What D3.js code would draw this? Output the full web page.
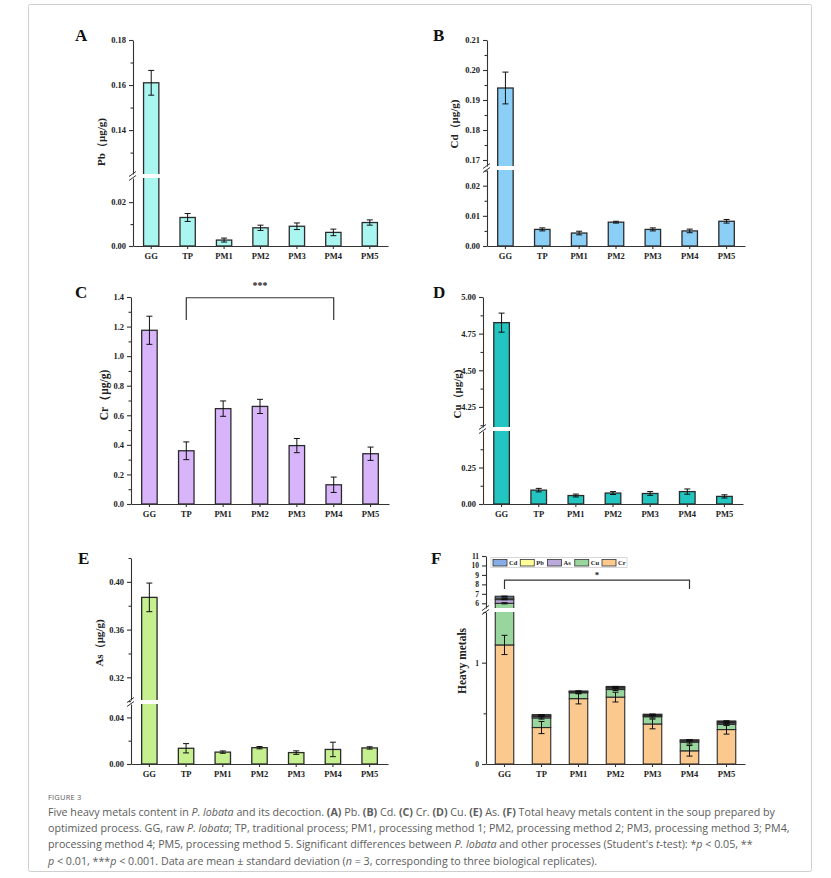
<!DOCTYPE html>
<html><head><meta charset="utf-8">
<script src="https://cdn.jsdelivr.net/npm/d3@7/dist/d3.min.js"></script>
<style>
body{margin:0;background:#fff;}
svg{display:block;}
.tk text{font-family:"Liberation Serif","Times New Roman",serif;font-weight:bold;font-size:8.5px;fill:#222;}
.tk line,.tk path{stroke:#333;stroke-width:1.1;}
.cap{font-family:"Open Sans","Noto Sans",sans-serif;fill:#5c5c5c;}
</style></head>
<body>
<svg id="c" width="831" height="878"></svg>
<script>
// ---------- data ----------
const categories = ["GG","TP","PM1","PM2","PM3","PM4","PM5"];
const pbMean = [0.161,0.0130,0.0027,0.0083,0.0090,0.0062,0.0107];
const pbSd   = [0.0055,0.0018,0.0009,0.0012,0.0015,0.0015,0.0012];
const cdMean = [0.194,0.0055,0.0043,0.0079,0.0055,0.0050,0.0082];
const cdSd   = [0.0053,0.0005,0.0006,0.0003,0.0005,0.0006,0.0006];
const crMean = [1.175,0.360,0.645,0.660,0.395,0.130,0.340];
const crSd   = [0.095,0.060,0.052,0.048,0.048,0.052,0.045];
const cuMean = [4.825,0.095,0.058,0.075,0.072,0.085,0.052];
const cuSd   = [0.065,0.012,0.010,0.010,0.013,0.018,0.011];
const asMean = [0.387,0.0135,0.0102,0.0140,0.0098,0.0125,0.0138];
const asSd   = [0.012,0.0040,0.0010,0.0010,0.0015,0.0062,0.0010];
const metalsStackOrder = ["Cr","Cu","As","Pb","Cd"];
const legendOrder = ["Cd","Pb","As","Cu","Cr"];
const ticksA = {lower:[0,0.02], lowerMinor:[0.01], upper:[0.14,0.16,0.18], upperMinor:[0.13,0.15,0.17]};
const ticksB = {lower:[0,0.01,0.02], lowerMinor:[0.005,0.015,0.025], upper:[0.17,0.18,0.19,0.20,0.21], upperMinor:[0.175,0.185,0.195,0.205]};
const ticksC = {lower:[0,0.2,0.4,0.6,0.8,1.0,1.2,1.4], lowerMinor:[0.1,0.3,0.5,0.7,0.9,1.1,1.3]};
const ticksD = {lower:[0,0.25], lowerMinor:[0.125,0.375], upper:[4.25,4.5,4.75,5.0], upperMinor:[4.125,4.375,4.625,4.875]};
const ticksE = {lower:[0,0.04], lowerMinor:[0.02], upper:[0.32,0.36,0.40], upperMinor:[0.30,0.34,0.38,0.42]};
const ticksF = {lower:[0,1], lowerMinor:[0.5,1.5], upper:[6,7,8,9,10,11], upperMinor:[]};

const metals = {
  Cr:{mean:crMean, sd:crSd, color:"#fbc88e"},
  Cu:{mean:cuMean, sd:cuSd, color:"#98d69d"},
  As:{mean:asMean, sd:asSd, color:"#b9aadb"},
  Pb:{mean:pbMean, sd:pbSd, color:"#fdfd9c"},
  Cd:{mean:cdMean, sd:cdSd, color:"#87ace6"}
};

const svg = d3.select("#c");
svg.append("rect").attr("x",28.5).attr("y",4.5).attr("width",783).attr("height",867)
  .attr("rx",2).attr("fill","#fff").attr("stroke","#cfcfcf").attr("stroke-width",1);

function brokenScale(lowDom, lowRange, upDom, upRange){
  const lo = d3.scaleLinear().domain(lowDom).range(lowRange);
  const up = upDom ? d3.scaleLinear().domain(upDom).range(upRange) : null;
  const f = v => {
    if(!up || v <= lowDom[1]) return lo(v);
    if(v >= upDom[0]) return up(v);
    return (lowRange[1]+upRange[0])/2;
  };
  f.lo = lo; f.up = up; return f;
}

function drawAxes(g, cfg, y, x){
  const fmt = d3.format(cfg.fmt);
  const mk = (sc, vals, minor) => {
    const a = g.append("g").attr("class","tk ytk").attr("transform",`translate(${cfg.axisX},0)`)
      .call(d3.axisLeft(sc).tickValues(vals).tickFormat(fmt).tickSize(4).tickSizeOuter(0).tickPadding(3));
    if(cfg.labelSize) a.selectAll("text").style("font-size", cfg.labelSize+"px");
    g.append("g").attr("class","tk").attr("transform",`translate(${cfg.axisX},0)`)
      .call(d3.axisLeft(sc).tickValues(minor).tickFormat("").tickSize(2.5).tickSizeOuter(0))
      .select(".domain").remove();
  };
  mk(y.lo, cfg.ticks.lower, cfg.ticks.lowerMinor);
  if(y.up) mk(y.up, cfg.ticks.upper, cfg.ticks.upperMinor);
  g.append("g").attr("class","tk").attr("transform",`translate(0,${cfg.y0})`)
    .call(d3.axisBottom(x).tickSize(3).tickSizeOuter(0).tickPadding(4));
}

function breakMark(g, cfg, x){
  if(!cfg.upper) return;
  const gt = cfg.gap[0], gb = cfg.gap[1];
  g.append("rect").attr("x",cfg.axisX-3).attr("y",gt).attr("width",x(categories[0])+x.bandwidth()+1.5-(cfg.axisX-3))
    .attr("height",gb-gt).attr("fill","#fff");
  [gt,gb].forEach(yy=>{
    g.append("line").attr("x1",cfg.axisX-4).attr("y1",yy+2.5).attr("x2",cfg.axisX+3).attr("y2",yy-2.5)
      .attr("stroke","#333").attr("stroke-width",1);
  });
}

function errBar(g, cx, yTop, yBot, cap){
  g.append("line").attr("x1",cx).attr("x2",cx).attr("y1",yTop).attr("y2",yBot).attr("stroke","#111").attr("stroke-width",1);
  [yTop,yBot].forEach(yy=>g.append("line").attr("x1",cx-cap).attr("x2",cx+cap).attr("y1",yy).attr("y2",yy).attr("stroke","#111").attr("stroke-width",1));
}

function panelLetter(txt, x, y){
  svg.append("text").attr("x",x).attr("y",y).text(txt)
    .style("font-family","'Liberation Serif','Times New Roman',serif").style("font-weight","bold").style("font-size","17px").attr("fill","#111");
}

function yLabel(txt, x, y, size){
  svg.append("text").attr("transform",`translate(${x},${y}) rotate(-90)`).attr("text-anchor","middle").text(txt)
    .style("font-family","'Liberation Serif','Times New Roman',serif").style("font-weight","bold").style("font-size",(size||11)+"px").attr("fill","#222");
}

function barPanel(cfg){
  const g = svg.append("g");
  const x = d3.scaleBand().domain(categories).range([cfg.axisX, cfg.xEnd]).paddingInner(cfg.pad).paddingOuter(cfg.pad/2);
  const y = brokenScale(cfg.lower, [cfg.y0, cfg.upper ? cfg.gap[1] : cfg.yTop], cfg.upper, cfg.upper ? [cfg.gap[0], cfg.yTop] : null);
  categories.forEach((c,i)=>{
    g.append("rect").attr("x",x(c)).attr("width",x.bandwidth()).attr("y",y(cfg.mean[i])).attr("height",cfg.y0-y(cfg.mean[i]))
      .attr("fill",cfg.color).attr("stroke","#2b2b2b").attr("stroke-width",1.3);
  });
  categories.forEach((c,i)=>{
    const cx = x(c)+x.bandwidth()/2;
    errBar(g, cx, y(cfg.mean[i]+cfg.sd[i]), y(cfg.mean[i]-cfg.sd[i]), 3);
  });
  breakMark(g, cfg, x);
  drawAxes(g, cfg, y, x);
  return {x,y,g};
}

// A
barPanel({axisX:133, xEnd:388, y0:246, yTop:40, lower:[0,0.031], upper:[0.1205,0.18], gap:[174,178], pad:0.58,
  mean:pbMean, sd:pbSd, color:"#a9f6f1", ticks:ticksA, fmt:".2f"});
panelLetter("A",75,41); yLabel("Pb（μg/g)",105,142);
// B
barPanel({axisX:487, xEnd:745, y0:246, yTop:40, lower:[0,0.0252], upper:[0.168,0.21], gap:[166,170], pad:0.58,
  mean:cdMean, sd:cdSd, color:"#8ccff6", ticks:ticksB, fmt:".2f"});
panelLetter("B",433,41); yLabel("Cd（μg/g)",458,124);
// C
const pc = barPanel({axisX:131, xEnd:389, y0:504, yTop:297, lower:[0,1.4], upper:null, pad:0.58,
  mean:crMean, sd:crSd, color:"#d8b5fb", ticks:ticksC, fmt:".1f"});
panelLetter("C",75,298); yLabel("Cr（μg/g)",108,395,11.5);
{
  const x1 = pc.x("TP")+pc.x.bandwidth()/2, x2 = pc.x("PM4")+pc.x.bandwidth()/2;
  const yt = pc.y(1.395), yb = pc.y(1.245);
  pc.g.append("path").attr("d",`M${x1},${yb}V${yt}H${x2}V${yb}`).attr("fill","none").attr("stroke","#333").attr("stroke-width",1.2);
  pc.g.append("text").attr("x",(x1+x2)/2).attr("y",yt-9).attr("text-anchor","middle").text("***")
    .style("font-family","'Liberation Serif',serif").style("font-weight","bold").style("font-size","10px").attr("fill","#222");
}
// D
barPanel({axisX:483, xEnd:743, y0:504, yTop:297, lower:[0,0.5], upper:[4.113,5.0], gap:[427,431], pad:0.58,
  mean:cuMean, sd:cuSd, color:"#22c5bf", ticks:ticksD, fmt:".2f"});
panelLetter("D",433,298); yLabel("Cu（μg/g)",461,394);
// E
barPanel({axisX:131, xEnd:388, y0:764, yTop:558, lower:[0,0.0515], upper:[0.301,0.42], gap:[700,704], pad:0.58,
  mean:asMean, sd:asSd, color:"#c6ef90", ticks:ticksE, fmt:".2f"});
panelLetter("E",78,564); yLabel("As（μg/g)",103,643);

// F stacked
{
  const cfg = {axisX:486, xEnd:745, y0:764, yTop:556, lower:[0,1.5], upper:[5.5,11], gap:[608,612], pad:0.5, ticks:ticksF, fmt:"d", labelSize:7.5};
  const g = svg.append("g");
  const x = d3.scaleBand().domain(categories).range([cfg.axisX,cfg.xEnd]).paddingInner(cfg.pad).paddingOuter(cfg.pad/2);
  const y = brokenScale(cfg.lower,[cfg.y0,cfg.gap[1]],cfg.upper,[cfg.gap[0],cfg.yTop]);
  const table = categories.map((c,i)=>{const o={cat:c}; metalsStackOrder.forEach(m=>o[m]=metals[m].mean[i]); return o;});
  const series = d3.stack().keys(metalsStackOrder)(table);
  series.forEach(s=>{
    s.forEach((d,i)=>{
      g.append("rect").attr("x",x(categories[i])).attr("width",x.bandwidth()).attr("y",y(d[1])).attr("height",y(d[0])-y(d[1]))
        .attr("fill",metals[s.key].color).attr("stroke","#2b2b2b").attr("stroke-width",1.1);
    });
  });
  series.forEach(s=>{
    s.forEach((d,i)=>{
      const sd = metals[s.key].sd[i];
      const cx = x(categories[i])+x.bandwidth()/2;
      errBar(g, cx, y(d[1]+sd), y(d[1]-sd), 3);
    });
  });
  breakMark(g,cfg,x);
  drawAxes(g,cfg,y,x);
  // bracket
  const x1 = x("GG")+x.bandwidth()/2, x2 = x("PM4")+x.bandwidth()/2;
  const yt = y(8.45), yb = y(7.5);
  g.append("path").attr("d",`M${x1},${yb}V${yt}H${x2}V${yb}`).attr("fill","none").attr("stroke","#333").attr("stroke-width",1.2);
  g.append("text").attr("x",(x1+x2)/2).attr("y",yt-2).attr("text-anchor","middle").text("*")
    .style("font-family","'Liberation Serif',serif").style("font-weight","bold").style("font-size","9px").attr("fill","#222");
  // legend
  const lg = g.append("g");
  lg.append("rect").attr("x",491).attr("y",557.5).attr("width",136).attr("height",10).attr("fill","#fff").attr("stroke","#cfcfcf").attr("stroke-width",0.8);
  const lx = d3.scalePoint().domain(legendOrder).range([493,602]);
  legendOrder.forEach(m=>{
    lg.append("rect").attr("x",lx(m)).attr("y",559.5).attr("width",14).attr("height",6.5).attr("fill",metals[m].color).attr("stroke","#333").attr("stroke-width",0.8);
    lg.append("text").attr("x",lx(m)+16).attr("y",565.3).text(m)
      .style("font-family","'Liberation Serif',serif").style("font-weight","bold").style("font-size","6.5px").attr("fill","#222");
  });
  panelLetter("F",431,564); yLabel("Heavy metals",466,661,11.5);
}

// caption
svg.append("text").attr("class","cap").attr("x",48).attr("y",800).style("font-size","7.5px").style("letter-spacing","0.2px").attr("fill","#6a6a6a").text("FIGURE 3");
const capLines = [
  [["Five heavy metals content in ",""],["P. lobata","i"],[" and its decoction. ",""],["(A)","b"],[" Pb. ",""],["(B)","b"],[" Cd. ",""],["(C)","b"],[" Cr. ",""],["(D)","b"],[" Cu. ",""],["(E)","b"],[" As. ",""],["(F)","b"],[" Total heavy metals content in the soup prepared by",""]],
  [["optimized process. GG, raw ",""],["P. lobata","i"],["; TP, traditional process; PM1, processing method 1; PM2, processing method 2; PM3, processing method 3; PM4,",""]],
  [["processing method 4; PM5, processing method 5. Significant differences between ",""],["P. lobata","i"],[" and other processes (Student's ",""],["t","i"],["-test): *",""],["p","i"],[" < 0.05, **",""]],
  [["p","i"],[" < 0.01, ***",""],["p","i"],[" < 0.001. Data are mean ± standard deviation (",""],["n","i"],[" = 3, corresponding to three biological replicates).",""]]
];
capLines.forEach((ln,k)=>{
  const t = svg.append("text").attr("class","cap").attr("x",48).attr("y",816+k*16.2).style("font-size","10.7px");
  ln.forEach(([s,st])=>{
    const ts = t.append("tspan").text(s);
    if(st==="i") ts.style("font-style","italic");
    if(st==="b") ts.style("font-weight","bold");
  });
});
</script>
</body></html>
